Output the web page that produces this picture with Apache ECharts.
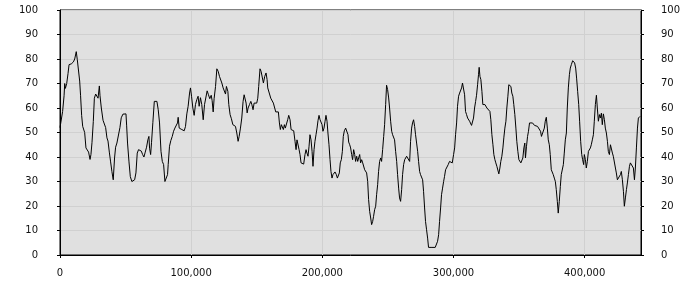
<!DOCTYPE html>
<html><head><meta charset="utf-8">
<script src="https://cdn.jsdelivr.net/npm/echarts@6/dist/echarts.min.js"></script>
<style>html,body{margin:0;padding:0;background:#fff}#c{width:700px;height:300px}</style>
</head><body><div id="c"></div>
<script>
const xValues = [0,2000,3100,3600,4100,5100,6100,6900,7900,8600,9400,10200,11200,12400,13200,14200,15000,15700,16500,17300,18000,18800,19800,20800,21800,22900,23600,24400,25400,26200,27200,28000,29000,30000,30500,31500,32800,34000,34800,35800,36600,37600,38600,39600,40600,41600,42400,43400,44700,45700,46700,48000,49300,50300,50800,51500,52600,53600,54800,55900,56900,57900,58900,59900,60900,62000,63000,64000,65000,66000,67000,67800,68300,69100,69800,70800,71900,72900,
73900,74900,75900,77000,78000,79000,80000,81000,82000,82500,83500,84500,85600,86600,87600,88600,89600,90100,90900,91900,92900,93900,94700,95700,96700,97700,98800,99500,100300,101300,102300,103300,104300,105300,106100,107100,108100,109200,110200,111200,112200,113200,114200,115300,116000,116800,117500,118600,119600,120600,121600,122400,123400,124400,125400,126200,126900,128000,128700,129700,130700,131800,132800,133800,134800,135800,136600,137600,138600,139600,140400,141200,141900,142700,143400,144500,145500,
146200,147200,148000,149000,150000,150800,151500,152500,153300,154300,155100,156100,157100,157900,158400,159100,159900,160700,161700,162700,163700,164500,165500,166500,167300,168000,168800,169600,170300,171100,171800,172600,173600,174400,175400,176200,177200,178200,179200,180000,180700,181500,182300,183000,183800,184800,185800,186800,187600,188300,189100,189900,190600,191400,192200,192900,193700,194400,195200,196000,196700,197500,198300,199000,199800,200500,201300,202100,202800,203600,204300,205100,205900,206600,207400,208100,208900,209700,210700,211500,212200,213000,213700,214500,215300,216000,216800,217800,218800,219600,
220100,220900,221600,222400,223100,223900,224700,225400,226200,227000,227700,228500,229200,230000,230800,231500,232300,233000,233800,234600,235300,236100,236900,237600,238400,239100,239900,240700,241400,242200,242900,243700,244500,245200,246000,246800,247500,248300,249000,249800,250600,251300,252100,252900,253600,254400,255100,255900,256700,257400,258200,258900,259700,260500,261200,262000,262800,263500,264300,265000,265800,266600,267300,268100,268800,269600,270400,271100,271900,272700,273400,274200,274900,275700,276500,277200,278000,278700,279500,280300,281000,283600,286100,287100,287900,288700,289400,290200,290900,291700,292500,293200,294000,294700,
296000,297000,298000,299100,300100,300900,301600,302400,303100,303900,304700,305400,306200,306900,307700,308500,309200,310000,310800,311500,312300,313000,313800,314600,315300,316100,316900,317600,318400,319100,319600,320200,320900,321700,322400,323200,324000,324700,325500,326200,327000,327800,328500,329300,330100,330800,331600,332300,333100,333900,334600,335400,336100,336900,337700,338400,339200,340000,340700,341500,342200,343000,343800,344500,345300,346000,346800,347600,348300,349100,349900,350600,351400,352100,352900,353700,354400,354900,355700,356500,357200,358000,358700,359500,360300,361000,361800,362600,363300,364100,364800,365600,366400,367100,367900,
369300,370000,370800,371600,372300,373100,373800,374600,375400,376100,376900,377700,378400,379200,379900,380700,381500,382200,383000,383800,384500,385300,386100,386800,387600,388400,389100,389900,390900,391700,392400,393200,393900,394700,395500,396200,397000,397800,398500,399300,399800,400600,401300,402100,402900,403600,404400,405100,405900,406700,407400,408200,409000,409700,410500,411300,412000,412800,413500,414300,415100,415800,416600,417400,418100,418900,419700,420400,421200,421900,422700,423500,424200,425000,425800,426500,427300,428000,428800,429600,430300,431100,431900,432600,433400,434200,434900,435700,436400,437200,438000,438700,439500,440300,441000,441800,442300];
const yValues = [52,58.6,65,70,68,70,74,77.7,77,78,77.5,78.8,80,83,79.7,79,71,65,57,52.5,53,50,43.7,43,42,39,41,46,54.5,64,65.7,65.3,64,69,65,60,55,54.5,52,47.8,46.5,42,38,34,30.7,39.6,44,45.7,46.3,52,56,57.5,58,57.6,53,45.7,38,32,30,29.4,30.7,33.5,41.6,43,43,42.4,41,40,42,44,47,48.4,43.6,41,46,54,62.7,63,
62.7,59.3,53.9,42.3,38.2,36.9,30,29.4,32.8,36.9,44.4,46.7,48.4,50.5,51.8,52.1,53.9,56.2,51.8,52.5,51.2,51.8,50.7,52.5,57.6,60.7,66.1,68.2,64.8,60,57,61.4,63.4,64.8,60.7,64.2,61.4,55.2,61.4,62,67,65.4,63.8,65.2,63,58.4,63.8,68.8,76,75,72.9,73.6,70.2,68.2,67.5,65.7,68.8,66.8,61.4,57.3,55.6,53.2,52.5,52.5,49.8,46.4,48.4,51.8,55.9,62.7,65.4,65.7,62,58,60,61.4,62.7,
61.6,59.3,62,61.8,62,64,68.8,76,75,74.3,70.2,72.9,74.3,71.6,68.2,68.4,67.5,64,63.4,62,61.4,58.4,58.4,58.4,53.9,51.2,53.2,53.9,51.2,53.2,51.8,51.2,55.2,57,55.2,51.2,50.7,50.7,46.4,43,47,46.4,43,41,37.6,37.1,37.1,41,43,41.6,40.3,44.4,49.1,47,42.3,36.2,43,46.4,49.1,51.8,54.8,57,55.2,56,53.2,50.5,51.8,54.6,57,54.6,49.8,45,38.9,34.1,31.4,32.8,32.8,33.9,32.8,31.4,30.7,33.5,37.6,38.9,42.3,48.4,50.7,51.8,52.1,49.1,
46.1,45,43.7,41,38.9,43,41,38.2,40.3,38.2,39.6,41,37.6,38.9,37.6,36.9,34.8,34.1,33.5,30,22.6,17.8,15.1,12.4,13.7,15.8,18.5,19.9,24.6,28.7,34.1,38.2,39.6,38.2,43,48.4,53.2,61.4,69.3,67.5,64.1,60,54.6,50.5,49.1,49.3,47,42.3,38.2,32.8,27.3,23.3,21.9,26.7,32.8,36.9,38.9,39.6,40.3,40.3,41,38.2,46.4,51.8,53.9,55.2,52.5,49.1,45.7,42.3,38.2,34.1,32.8,32.1,30.7,26,19.2,13.7,10.3,6.9,3.1,3.1,3.1,3.1,5.6,8.3,13.7,19.2,24.6,27.3,30,32.1,34.8,34.8,
36.9,38.2,38,37.6,41,43.7,49.1,53.9,60.7,64.8,66.1,66.8,68.2,70.2,70.9,65.4,58.6,57.3,55.9,55.2,54.6,53.9,52.9,52.5,55.9,60,62.7,65.2,69.5,73.6,76.6,72.9,71.6,66.8,61.4,60.7,61.4,61.6,60,60.7,60,58.6,55.2,49.1,45,41,38.9,37.6,36.2,35.5,33.1,35.5,38.2,40.3,43.7,47.8,51.8,54.6,60,64.8,69.5,69.7,68.8,66.1,64.8,61.4,57.3,51.8,46.4,42.3,38.9,38.2,37.6,36.9,39.6,43.7,45.7,39.6,44.4,48.4,50.5,53.9,54.3,53.2,53.9,53.5,52.9,52.5,53.2,52.5,52.1,52.5,50.5,48.4,49.1,
51.8,54.6,56.2,51.8,47,45,41,34.8,34.8,32.8,31.4,30,26.7,21.9,17.1,21.9,28,32.8,33.5,36.9,41.6,47,49.8,60,68.2,73.6,76.3,77.7,79.3,79.7,78.4,76.3,72.2,66.8,61.4,54.6,46.4,41,38.9,36.9,41,38.9,35.5,38.2,42.3,43,43.7,45,47,49.1,54.6,61.4,65.2,60,54.6,57.3,55.9,57.9,53.2,57.6,55.2,51.8,49.8,46.4,42.3,41,45,45,41.6,40.3,39.6,35.5,33.5,30.7,30,31.4,32.8,34.1,30.7,26,19.9,23.3,26.7,29.4,32.8,36.2,37.6,38.2,36.9,35.5,30.7,35.5,43.7,51.8,55.9,55.2,56.6];
const xTicks = [0,100000,200000,300000,400000];
const xMax = 443000;
const yMin = 0, yMax = 100, yStep = 10;

const seriesData = xValues.map((x, i) => [x, yValues[i]]);
const font = {fontFamily: 'DejaVu Sans', fontSize: 10, color: '#111'};
const chart = echarts.init(document.getElementById('c'), null, {renderer: 'canvas'});
chart.setOption({
  animation: false,
  grid: {left: 60, right: 59, top: 10, bottom: 45, show: true, backgroundColor: '#e0e0e0', borderColor: '#000', borderWidth: 1},
  xAxis: {
    type: 'value', min: 0, max: xMax, interval: 100000,
    axisLine: {show: true, lineStyle: {color: '#000', width: 1}},
    axisTick: {show: true, length: 3, lineStyle: {color: '#000'}, customValues: xTicks},
    axisLabel: Object.assign({margin: 13, customValues: xTicks}, font),
    splitLine: {show: true, lineStyle: {color: '#d0d0d0', width: 1}}
  },
  yAxis: [{
    type: 'value', min: yMin, max: yMax, interval: yStep, position: 'left',
    axisLine: {show: true, lineStyle: {color: '#000', width: 1}},
    axisTick: {show: true, length: 3, lineStyle: {color: '#000'}},
    axisLabel: Object.assign({margin: 22}, font),
    splitLine: {show: true, lineStyle: {color: '#d0d0d0', width: 1}}
  }, {
    type: 'value', min: yMin, max: yMax, interval: yStep, position: 'right',
    axisLine: {show: true, lineStyle: {color: '#000', width: 1}},
    axisTick: {show: true, length: 3, lineStyle: {color: '#000'}},
    axisLabel: Object.assign({margin: 20}, font),
    splitLine: {show: false}
  }],
  series: [{
    type: 'line', data: seriesData, showSymbol: false, symbol: 'none',
    lineStyle: {color: '#000', width: 1}, smooth: false, yAxisIndex: 0
  }]
});
</script></body></html>
